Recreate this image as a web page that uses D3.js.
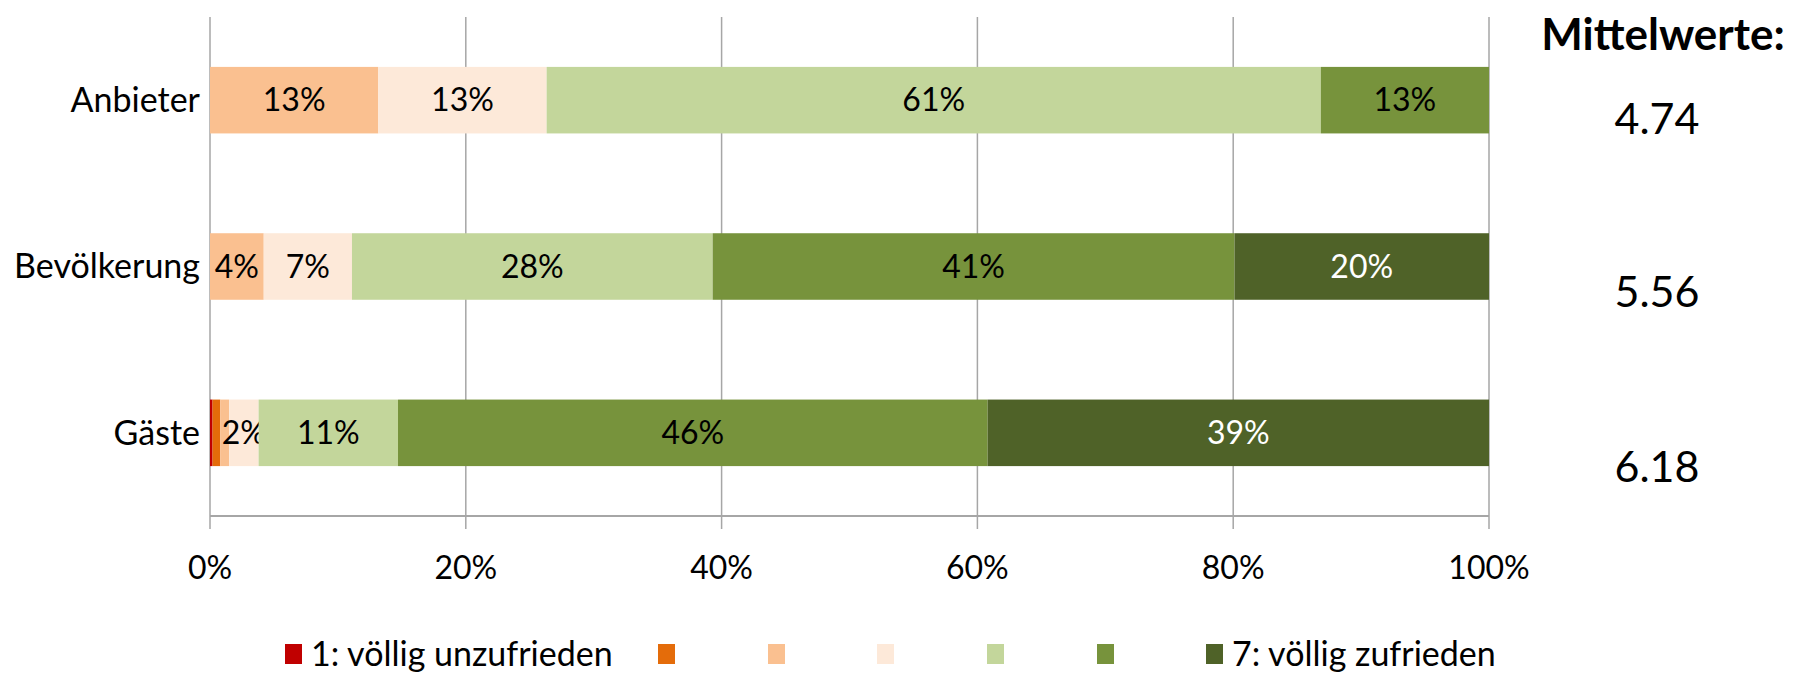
<!DOCTYPE html>
<html><head><meta charset="utf-8">
<script src="https://cdn.jsdelivr.net/npm/d3@7"></script>
<style>body{margin:0;background:#fff}svg{display:block}text{font-family:Lato,"Open Sans",sans-serif}</style>
</head><body><svg id="c" width="1810" height="673"></svg>
<script>
const categories = ["Anbieter", "Bevölkerung", "Gäste"];
const seriesNames = ["1: völlig unzufrieden", "2", "3", "4", "5", "6", "7: völlig zufrieden"];
const legendLabels = ["1: völlig unzufrieden", "", "", "", "", "", "7: völlig zufrieden"];
const s1 = [0, 0, 0.2];
const s2 = [0, 0, 0.6];
const s3 = [13.16, 4.2, 0.7];
const s4 = [13.16, 6.9, 2.3];
const s5 = [60.53, 28.2, 10.9];
const s6 = [13.15, 40.8, 46.1];
const s7 = [0, 19.9, 39.2];
const means = ["4.74", "5.56", "6.18"];
const xTicks = [0, 20, 40, 60, 80, 100];
const colors = ["#C00000", "#E46C0A", "#FAC090", "#FDE9D9", "#C3D69B", "#77933C", "#4F6228"];
const labelColors = ["#000", "#000", "#000", "#000", "#000", "#000", "#fff"];

const series = [s1, s2, s3, s4, s5, s6, s7];
const svg = d3.select("#c");
const x = d3.scaleLinear().domain([0, 100]).range([210, 1489]);
const y = d3.scaleBand().domain(categories).range([17, 516]).paddingInner(0.6).paddingOuter(0.3);
const grid = "#A6A6A6";

// gridlines
svg.append("g").selectAll("line").data(xTicks).join("line")
  .attr("x1", d => x(d)).attr("x2", d => x(d)).attr("y1", 17).attr("y2", 529)
  .attr("stroke", grid).attr("stroke-width", 1.5);
// axis line
svg.append("line").attr("x1", x(0)).attr("x2", x(100)).attr("y1", 516).attr("y2", 516)
  .attr("stroke", grid).attr("stroke-width", 2);

// stacked
const rows = categories.map((c, i) => { const o = {cat: c}; series.forEach((s, k) => o["k" + k] = s[i]); return o; });
const stack = d3.stack().keys(series.map((s, k) => "k" + k))(rows);
stack.forEach((layer, k) => {
  const g = svg.append("g");
  g.selectAll("rect").data(layer).join("rect")
    .attr("x", d => x(d[0])).attr("width", d => x(d[1]) - x(d[0]))
    .attr("y", d => y(d.data.cat)).attr("height", y.bandwidth())
    .attr("fill", colors[k]);
  g.selectAll("text").data(layer.filter(d => d[1] - d[0] >= 1.5)).join("text")
    .attr("x", d => (x(d[0]) + x(d[1])) / 2).attr("y", d => y(d.data.cat) + y.bandwidth() / 2)
    .attr("dy", "0.35em").attr("text-anchor", "middle").attr("font-size", 32)
    .attr("fill", labelColors[k])
    .text(d => Math.round(d[1] - d[0]) + "%");
});

// category labels
svg.append("g").selectAll("text").data(categories).join("text")
  .attr("x", 200).attr("y", d => y(d) + y.bandwidth() / 2).attr("dy", "0.35em")
  .attr("text-anchor", "end").attr("font-size", 34).text(d => d);

// tick labels
svg.append("g").selectAll("text").data(xTicks).join("text")
  .attr("x", d => x(d)).attr("y", 568).attr("dy", "0.35em").attr("text-anchor", "middle")
  .attr("font-size", 32).text(d => d + "%");

// Mittelwerte
svg.append("text").attr("x", 1663).attr("y", 35).attr("dy", "0.35em").attr("text-anchor", "middle")
  .attr("font-size", 44).attr("font-weight", "bold").text("Mittelwerte:");
svg.append("g").selectAll("text").data(means).join("text")
  .attr("x", 1657).attr("y", (d, i) => [119, 292, 467][i]).attr("dy", "0.35em").attr("text-anchor", "middle")
  .attr("font-size", 43).text(d => d);

// legend
const legX = [285, 658, 768, 877, 987, 1097, 1206];
const lg = svg.append("g").selectAll("g").data(colors).join("g")
  .attr("transform", (d, i) => `translate(${legX[i]},654)`);
lg.append("rect").attr("x", 0).attr("y", -10).attr("width", 17).attr("height", 20).attr("fill", d => d);
lg.append("text").attr("x", 26).attr("y", 0).attr("dy", "0.35em").attr("font-size", 34)
  .text((d, i) => legendLabels[i]);
</script></body></html>
